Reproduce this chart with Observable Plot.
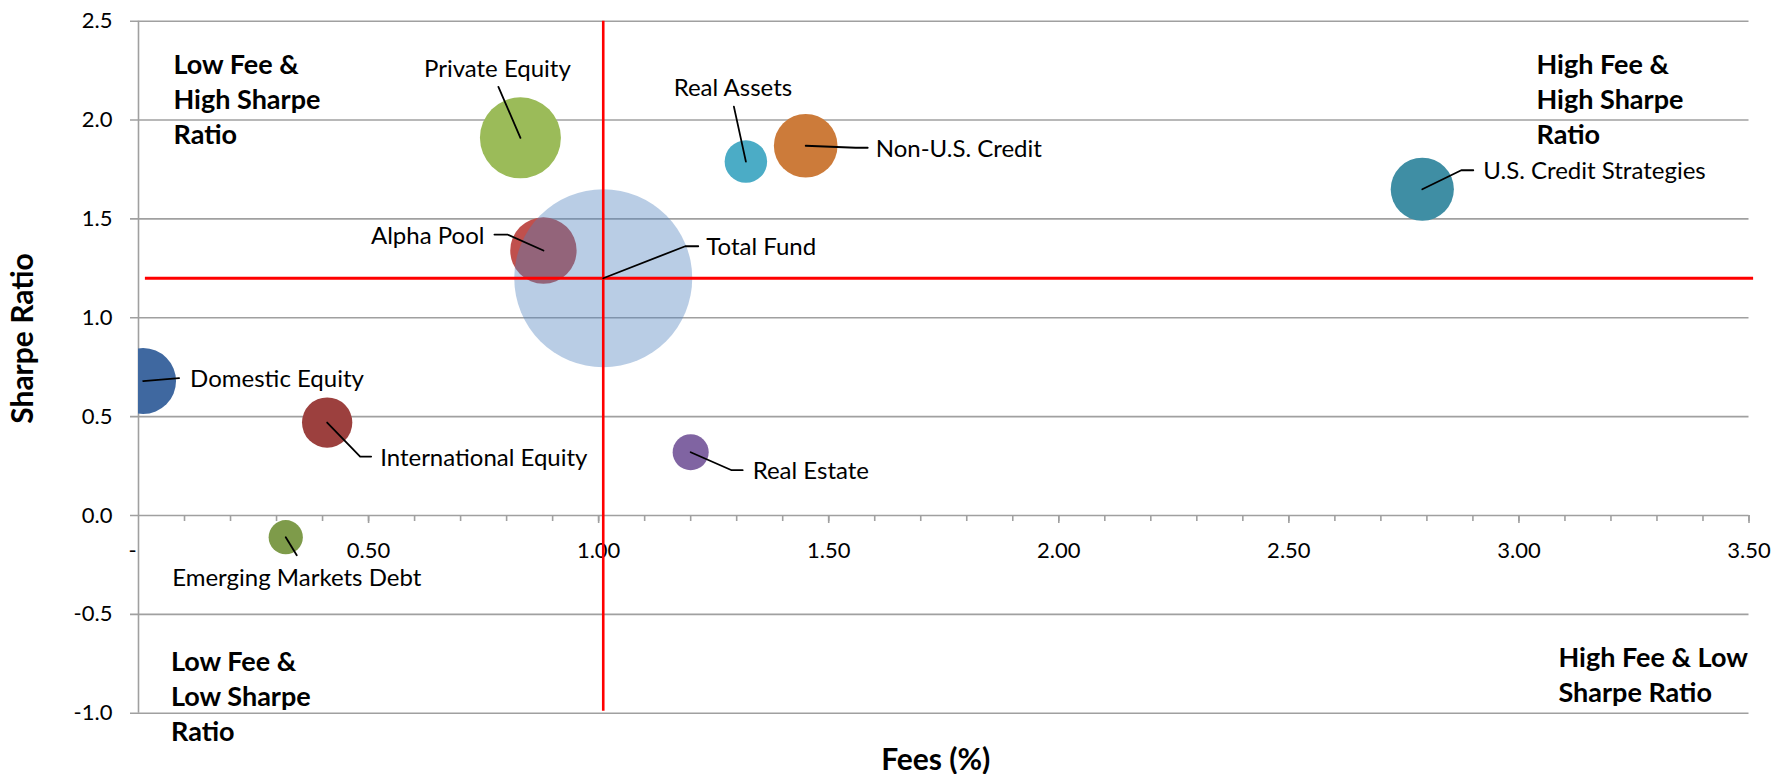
<!DOCTYPE html>
<html><head><meta charset="utf-8">
<script src="https://cdn.jsdelivr.net/npm/d3@7"></script>
<script src="https://cdn.jsdelivr.net/npm/@observablehq/plot@0.6"></script>
<style>html,body{margin:0;padding:0;background:#fff;} svg{display:block}</style>
</head><body><div id="chart"></div>
<script>
// ---------- data ----------
const names = ["Total Fund","Private Equity","Alpha Pool","Domestic Equity","International Equity","Emerging Markets Debt","Real Estate","Real Assets","Non-U.S. Credit","U.S. Credit Strategies"];
const fees = [1.01, 0.83, 0.88, 0.01, 0.41, 0.32, 1.20, 1.32, 1.45, 2.79];
const sharpe = [1.20, 1.91, 1.34, 0.68, 0.47, -0.11, 0.32, 1.79, 1.87, 1.65];
const weights = [100, 20.7, 13.9, 13.7, 8.0, 3.7, 4.1, 5.7, 12.8, 12.6];
const xTickValues = [0, 0.5, 1, 1.5, 2, 2.5, 3, 3.5];
const xTickLabels = ["-", "0.50", "1.00", "1.50", "2.00", "2.50", "3.00", "3.50"];
const yTickValues = [-1, -0.5, 0, 0.5, 1, 1.5, 2, 2.5];
const yTickLabels = ["-1.0", "-0.5", "0.0", "0.5", "1.0", "1.5", "2.0", "2.5"];
const quadrantTexts = ["Low Fee &\nHigh Sharpe\nRatio", "High Fee &\nHigh Sharpe\nRatio", "Low Fee &\nLow Sharpe\nRatio", "High Fee & Low\nSharpe Ratio"];
const xTitle = "Fees (%)";
const yTitle = "Sharpe Ratio";

// ---------- styles / layout ----------
const palette = {
  "Total Fund": "#4F81BD", "Private Equity": "#9BBB59", "Alpha Pool": "#C0504D",
  "Domestic Equity": "#3F68A0", "International Equity": "#9C403E", "Emerging Markets Debt": "#7E9B4A",
  "Real Estate": "#8064A2", "Real Assets": "#4BACC6", "Non-U.S. Credit": "#CC7B3A", "U.S. Credit Strategies": "#3F8EA4"
};
// label offsets (px from bubble centre) and leader elbows
const labelLayout = {
  "Total Fund": {dx: 103, dy: -23, anchor: "start", leader: [[82, -32], [95, -32]]},
  "Private Equity": {dx: -23, dy: -61, anchor: "middle", leader: [[-22, -51]]},
  "Alpha Pool": {dx: -59, dy: -7, anchor: "end", leader: [[-36, -16], [-49, -16]]},
  "Domestic Equity": {dx: 47, dy: 6, anchor: "start", leader: [[36, -3]]},
  "International Equity": {dx: 53, dy: 43, anchor: "start", leader: [[33, 34], [44, 34]]},
  "Emerging Markets Debt": {dx: 11, dy: 49, anchor: "middle", leader: [[11, 18]]},
  "Real Estate": {dx: 62, dy: 27, anchor: "start", leader: [[41, 18], [52, 18]]},
  "Real Assets": {dx: -13, dy: -66, anchor: "middle", leader: [[-12, -55]]},
  "Non-U.S. Credit": {dx: 70, dy: 11, anchor: "start", leader: [[50, 2], [62, 2]]},
  "U.S. Credit Strategies": {dx: 61, dy: -10, anchor: "start", leader: [[39, -19], [51, -19]]}
};
const W = 1776, H = 774;
const M = {left: 138, right: 27.5, top: 20.7, bottom: 61.3};
const xDomain = [0, 3.5], yDomain = [-1, 2.5];
const FONT = "Lato, 'Open Sans', sans-serif";

const xs = Plot.scale({x: {domain: xDomain, range: [M.left, W - M.right]}});
const ys = Plot.scale({y: {domain: yDomain, range: [H - M.bottom, M.top]}});
const toData = (px, py) => [xs.invert(px), ys.invert(py)];

const rows = names.map((name, i) => ({name, fee: fees[i], sharpe: sharpe[i], weight: weights[i], color: palette[name]}));
const total = rows.find(d => d.name === "Total Fund");

const labels = rows.map(d => {
  const L = labelLayout[d.name];
  const cx = xs.apply(d.fee), cy = ys.apply(d.sharpe);
  const [lx, ly] = toData(cx + L.dx, cy + L.dy);
  return {name: d.name, lx, ly, anchor: L.anchor};
});
const leaders = rows.flatMap(d => {
  const L = labelLayout[d.name];
  const cx = xs.apply(d.fee), cy = ys.apply(d.sharpe);
  return [[0, 0], ...L.leader].map(([ox, oy], k) => {
    const [px, py] = toData(cx + ox, cy + oy);
    return {name: d.name, k, px, py};
  });
});

const minorTicks = d3.range(1, 36).map(k => k / 10);
const tickEnd = (len) => ys.invert(ys.apply(0) + len);
const grid = "#a0a0a0";
const xTicks = xTickValues.map((v, i) => ({v, label: xTickLabels[i]}));

const textMarks = ["start", "middle", "end"].map(a =>
  Plot.text(labels.filter(l => l.anchor === a), {
    x: "lx", y: "ly", text: "name", textAnchor: a, lineAnchor: "bottom",
    fontSize: 24, fill: "#000"
  })
);

const chart = Plot.plot({
  width: W, height: H,
  marginLeft: M.left, marginRight: M.right, marginTop: M.top, marginBottom: M.bottom,
  style: {fontFamily: FONT, color: "#000", background: "#fff"},
  x: {domain: xDomain, axis: null},
  y: {domain: yDomain, axis: null},
  r: {type: "sqrt", domain: [0, 100], range: [0, 89]},
  marks: [
    Plot.ruleY(yTickValues, {stroke: grid, strokeWidth: 1.6, insetLeft: -8}),
    Plot.ruleX([0], {stroke: grid, strokeWidth: 1.6}),
    Plot.ruleX(minorTicks, {x: d => d, y1: 0, y2: tickEnd(6), stroke: grid, strokeWidth: 1.6}),
    Plot.ruleX(xTickValues.slice(1), {x: d => d, y1: 0, y2: tickEnd(8), stroke: grid, strokeWidth: 1.6}),
    Plot.text(yTickValues, {y: d => d, text: (d, i) => yTickLabels[i], frameAnchor: "left", textAnchor: "end", dx: -26, fontSize: 22, fill: "#000"}),
    Plot.text(xTicks.filter(t => t.v !== 0), {x: "v", y: 0, text: "label", textAnchor: "middle", lineAnchor: "bottom", dy: 43, fontSize: 22, fill: "#000"}),
    Plot.text(xTicks.filter(t => t.v === 0), {x: "v", y: 0, text: "label", textAnchor: "middle", lineAnchor: "bottom", dx: -6, dy: 43, fontSize: 22, fill: "#000"}),
    Plot.dot(rows.filter(d => d.name !== "Total Fund"), {x: "fee", y: "sharpe", r: "weight", fill: "color", clip: true}),
    Plot.dot([total], {x: "fee", y: "sharpe", r: "weight", fill: "color", fillOpacity: 0.4, clip: true}),
    Plot.ruleX([total.fee], {y1: -0.99, y2: yDomain[1], stroke: "#ff0000", strokeWidth: 2.6}),
    Plot.ruleY([total.sharpe], {x1: 0.015, x2: 3.51, stroke: "#ff0000", strokeWidth: 3.2}),
    Plot.line(leaders, {x: "px", y: "py", z: "name", stroke: "#000", strokeWidth: 1.8}),
    ...textMarks,
    Plot.text([quadrantTexts[0]], {frameAnchor: "top-left", textAnchor: "start", lineAnchor: "bottom", dx: 35, dy: 122.6, fontSize: 27, fontWeight: "bold", lineHeight: 35 / 27, fill: "#000"}),
    Plot.text([quadrantTexts[1]], {frameAnchor: "top-right", textAnchor: "start", lineAnchor: "bottom", dx: -212.5, dy: 122.6, fontSize: 27, fontWeight: "bold", lineHeight: 35 / 27, fill: "#000"}),
    Plot.text([quadrantTexts[2]], {frameAnchor: "bottom-left", textAnchor: "start", lineAnchor: "bottom", dx: 32.5, dy: 27.3, fontSize: 27, fontWeight: "bold", lineHeight: 35 / 27, fill: "#000"}),
    Plot.text([quadrantTexts[3]], {frameAnchor: "bottom-right", textAnchor: "start", lineAnchor: "bottom", dx: -190.5, dy: -11.7, fontSize: 27, fontWeight: "bold", lineHeight: 35 / 27, fill: "#000"}),
    Plot.text([xTitle], {frameAnchor: "bottom", textAnchor: "middle", lineAnchor: "bottom", dx: -8, dy: 56.3, fontSize: 30, fontWeight: "bold", fill: "#000"}),
    Plot.text([yTitle], {frameAnchor: "left", textAnchor: "middle", lineAnchor: "middle", rotate: -90, dx: -115, dy: -28.7, fontSize: 30, fontWeight: "bold", fill: "#000"})
  ]
});
document.getElementById("chart").appendChild(chart);
</script>
</body></html>
